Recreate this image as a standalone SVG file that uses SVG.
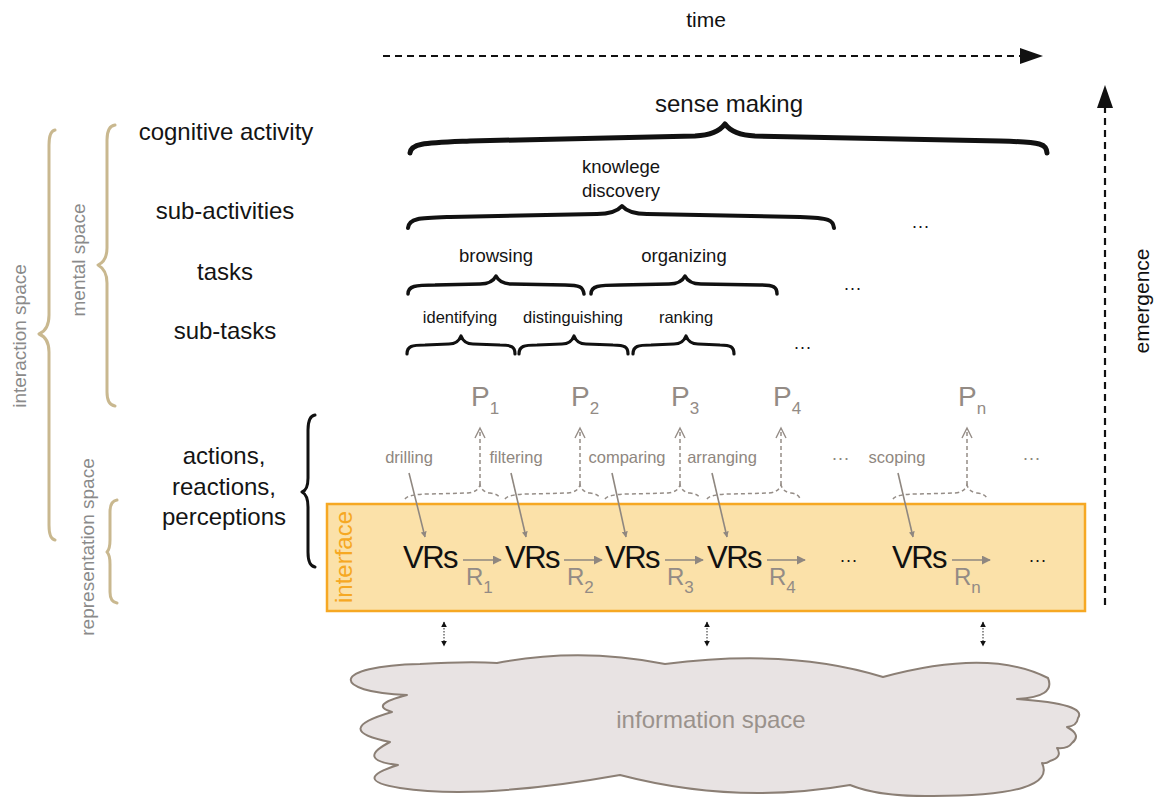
<svg xmlns="http://www.w3.org/2000/svg" width="1155" height="797" viewBox="0 0 1155 797">
  <defs>
    <style>
      text { font-family: "Liberation Sans", Arial, sans-serif; }
      .lbl { fill: #141414; font-size: 24px; text-anchor: middle; }
      .mid { fill: #141414; font-size: 18.5px; text-anchor: middle; }
      .sml { fill: #141414; font-size: 16.5px; text-anchor: middle; }
      .dots { fill: #141414; font-size: 18px; text-anchor: middle; letter-spacing: 1px; }
      .gdots { fill: #8f8780; font-size: 18px; text-anchor: middle; letter-spacing: 1px; }
      .act { fill: #8f8780; font-size: 16.5px; text-anchor: middle; }
      .gsym { fill: #938b85; }
      .space { fill: #8a8a8a; font-size: 19px; text-anchor: middle; }
      .vrs { fill: #111; font-size: 31px; letter-spacing: -1.5px; }
      .brace { fill: none; stroke: #111; stroke-linecap: round; stroke-linejoin: round; }
      .tan { fill: none; stroke: #c9b88f; stroke-width: 3; stroke-linecap: round; stroke-linejoin: round; }
      .pbrace { fill: none; stroke: #958d87; stroke-width: 1.5; stroke-dasharray: 4 3; }
      .garrow { stroke: #8f8780; stroke-width: 1.6; fill: none; }
      .axis { stroke: #111; stroke-width: 2.2; stroke-dasharray: 7 5; fill: none; }
      .link { stroke: #222; stroke-width: 1; stroke-dasharray: 1.5 1.5; fill: none; }
    </style>
    <marker id="gtri" viewBox="0 0 10 10" refX="9" refY="5" markerWidth="6" markerHeight="6" orient="auto" markerUnits="userSpaceOnUse">
      <path d="M0,0 L10,5 L0,10 z" fill="#8f8780"/>
    </marker>
    <marker id="rtri" viewBox="0 0 10 10" refX="9" refY="5" markerWidth="9" markerHeight="9" orient="auto" markerUnits="userSpaceOnUse">
      <path d="M0,0 L10,5 L0,10 z" fill="#8f8780"/>
    </marker>
    <marker id="ktri" viewBox="0 0 10 10" refX="9" refY="5" markerWidth="6" markerHeight="6" orient="auto-start-reverse" markerUnits="userSpaceOnUse">
      <path d="M0,0 L10,5 L0,10 z" fill="#111"/>
    </marker>
  </defs>

  <rect width="1155" height="797" fill="#ffffff"/>

  <!-- time axis -->
  <g id="time">
    <text x="706" y="27" style="fill:#111;font-size:21px;text-anchor:middle">time</text>
    <line class="axis" x1="383" y1="56" x2="1021" y2="56"/>
    <polygon points="1020,48 1043,56 1020,64" fill="#111"/>
  </g>

  <!-- emergence axis -->
  <g id="emergence">
    <line class="axis" x1="1105" y1="605" x2="1105" y2="106"/>
    <polygon points="1097,108 1105,85 1113,108" fill="#111"/>
    <text transform="translate(1149,301) rotate(-90)" style="fill:#111;font-size:21px;text-anchor:middle">emergence</text>
  </g>

  <!-- space braces on the left -->
  <g id="interaction-space">
    <path class="tan" d="M55,130 Q49,131 49,145 L49,315 Q49,330 39,334 Q49,338 49,352 L49,525 Q49,539 55,540"/>
    <text class="space" transform="translate(26,336) rotate(-90)">interaction space</text>
  </g>
  <g id="mental-space">
    <path class="tan" d="M115,125 Q107,126 107,140 L107,248 Q107,261 98,265 Q107,270 107,283 L107,392 Q107,405 115,406"/>
    <text class="space" transform="translate(85,260) rotate(-90)">mental space</text>
  </g>
  <g id="representation-space">
    <path class="tan" d="M117,500 Q110,501 110,512 L110,540 Q110,549 107,552 Q110,555 110,564 L110,592 Q110,602 117,603"/>
    <text class="space" transform="translate(94,547) rotate(-90)">representation space</text>
  </g>

  <!-- level labels -->
  <g id="levels">
    <text class="lbl" x="226" y="140">cognitive activity</text>
    <text class="lbl" x="225" y="219">sub-activities</text>
    <text class="lbl" x="225" y="280">tasks</text>
    <text class="lbl" x="225" y="339">sub-tasks</text>
    <text class="lbl" x="224" y="464">actions,</text>
    <text class="lbl" x="224" y="495">reactions,</text>
    <text class="lbl" x="224" y="525">perceptions</text>
    <path class="brace" stroke-width="3" d="M315,415 Q308,416 308,430 L308,478 Q308,490 302,492 Q308,495 308,507 L308,552 Q308,566 315,567"/>
  </g>

  <!-- sense making -->
  <g id="sense-making">
    <text class="lbl" x="729" y="112">sense making</text>
    <path class="brace" stroke-width="5" d="M410,153 C411,143 425,143 470,141 L695,136 Q717,135 725,124 Q733,135 755,136 L1000,141 C1043,142 1046,144 1047,153"/>
  </g>

  <!-- knowledge discovery -->
  <g id="knowledge-discovery">
    <text class="mid" x="621" y="173">knowlege</text>
    <text class="mid" x="621" y="197">discovery</text>
    <path class="brace" stroke-width="4" d="M408,228 C409,218 420,218 450,217 L597,214 Q615,214 622,206 Q629,214 647,214 L800,217 C830,218 833,220 834,228"/>
    <text class="dots" x="921" y="228">...</text>
  </g>

  <!-- tasks -->
  <g id="browsing">
    <text class="mid" x="496" y="262">browsing</text>
    <path class="brace" stroke-width="3.5" d="M408,294 C408,286 415,285 435,285 L480,284 Q492,284 496,276 Q500,284 512,284 L565,285 C580,285 583,287 584,294"/>
  </g>
  <g id="organizing">
    <text class="mid" x="684" y="262">organizing</text>
    <path class="brace" stroke-width="3.5" d="M591,294 C591,286 598,285 620,285 L669,284 Q681,284 685,276 Q689,284 701,284 L760,285 C774,285 777,287 777,294"/>
    <text class="dots" x="853" y="290">...</text>
  </g>

  <!-- sub-tasks -->
  <g id="identifying">
    <text class="sml" x="460" y="323">identifying</text>
    <path class="brace" stroke-width="3.2" d="M407,354 C407,346 412,345 425,345 L449,344 Q458,344 461,336 Q464,344 473,344 L500,345 C512,345 515,347 515,354"/>
  </g>
  <g id="distinguishing">
    <text class="sml" x="573" y="323">distinguishing</text>
    <path class="brace" stroke-width="3.2" d="M519,354 C519,346 524,345 537,345 L562,344 Q571,344 574,336 Q577,344 586,344 L613,345 C625,345 628,347 628,354"/>
  </g>
  <g id="ranking">
    <text class="sml" x="686" y="323">ranking</text>
    <path class="brace" stroke-width="3.2" d="M633,354 C633,346 638,345 651,345 L674,344 Q683,344 686,336 Q689,344 698,344 L720,345 C731,345 734,347 734,354"/>
    <text class="dots" x="803" y="349">...</text>
  </g>

  <!-- interface band -->
  <g id="interface">
    <rect x="327" y="504" width="758" height="107" fill="#fbe1a9" stroke="#f6a823" stroke-width="2.5"/>
    <text transform="translate(352,557) rotate(-90)" style="fill:#f6a823;font-size:24px;text-anchor:middle">interface</text>
    <text class="vrs" x="403" y="568">VRs</text>
    <text class="vrs" x="505" y="568">VRs</text>
    <text class="vrs" x="605" y="568">VRs</text>
    <text class="vrs" x="707" y="568">VRs</text>
    <text class="dots" x="849" y="562">...</text>
    <text class="vrs" x="892" y="568">VRs</text>
    <text class="dots" x="1038" y="562">...</text>
  </g>

  <!-- reactions between states -->
  <g id="reactions">
    <line class="garrow" x1="463" y1="560" x2="501" y2="560" marker-end="url(#rtri)"/>
    <line class="garrow" x1="564" y1="560" x2="602" y2="560" marker-end="url(#rtri)"/>
    <line class="garrow" x1="665" y1="560" x2="703" y2="560" marker-end="url(#rtri)"/>
    <line class="garrow" x1="767" y1="560" x2="805" y2="560" marker-end="url(#rtri)"/>
    <line class="garrow" x1="952" y1="560" x2="990" y2="560" marker-end="url(#rtri)"/>
    <text class="gsym" x="466" y="585" font-size="24">R<tspan font-size="17" dy="8">1</tspan></text>
    <text class="gsym" x="567" y="585" font-size="24">R<tspan font-size="17" dy="8">2</tspan></text>
    <text class="gsym" x="667" y="585" font-size="24">R<tspan font-size="17" dy="8">3</tspan></text>
    <text class="gsym" x="769" y="585" font-size="24">R<tspan font-size="17" dy="8">4</tspan></text>
    <text class="gsym" x="954" y="585" font-size="24">R<tspan font-size="17" dy="8">n</tspan></text>
  </g>

  <!-- user actions -->
  <g id="actions">
    <text class="act" x="409" y="463">drilling</text>
    <text class="act" x="516" y="463">filtering</text>
    <text class="act" x="627" y="463">comparing</text>
    <text class="act" x="722" y="463">arranging</text>
    <text class="gdots" x="841" y="460">...</text>
    <text class="act" x="897" y="463">scoping</text>
    <text class="gdots" x="1032" y="460">...</text>
    <line class="garrow" x1="409" y1="473" x2="425" y2="537" marker-end="url(#gtri)"/>
    <line class="garrow" x1="511" y1="473" x2="526" y2="537" marker-end="url(#gtri)"/>
    <line class="garrow" x1="612" y1="473" x2="626" y2="537" marker-end="url(#gtri)"/>
    <line class="garrow" x1="712" y1="473" x2="727" y2="537" marker-end="url(#gtri)"/>
    <line class="garrow" x1="898" y1="473" x2="913" y2="537" marker-end="url(#gtri)"/>
  </g>

  <!-- perceptions -->
  <g id="perceptions">
    <path class="pbrace" d="M405,499 Q408,494 430,494 L468,493 Q478,492 480,485 Q482,492 490,493 Q499,494 500,499"/>
    <path class="pbrace" d="M505,499 Q508,494 530,494 L568,493 Q578,492 580,485 Q582,492 590,493 Q599,494 600,499"/>
    <path class="pbrace" d="M605,499 Q608,494 630,494 L668,493 Q678,492 680,485 Q682,492 690,493 Q699,494 700,499"/>
    <path class="pbrace" d="M707,499 Q710,494 732,494 L769,493 Q779,492 781,485 Q783,492 791,493 Q799,494 800,499"/>
    <path class="pbrace" d="M893,499 Q896,494 918,494 L955,493 Q965,492 967,485 Q969,492 977,493 Q986,494 987,499"/>
    <line class="pbrace" x1="480" y1="485" x2="480" y2="429"/>
    <line class="pbrace" x1="580" y1="485" x2="580" y2="429"/>
    <line class="pbrace" x1="680" y1="485" x2="680" y2="429"/>
    <line class="pbrace" x1="781" y1="485" x2="781" y2="429"/>
    <line class="pbrace" x1="967" y1="485" x2="967" y2="429"/>
    <path d="M475,438 L480,428 L485,438 M575,438 L580,428 L585,438 M675,438 L680,428 L685,438 M776,438 L781,428 L786,438 M962,438 L967,428 L972,438" fill="none" stroke="#958d87" stroke-width="1.4"/>
    <text class="gsym" x="471" y="406" font-size="28">P<tspan font-size="17" dy="8">1</tspan></text>
    <text class="gsym" x="571" y="406" font-size="28">P<tspan font-size="17" dy="8">2</tspan></text>
    <text class="gsym" x="671" y="406" font-size="28">P<tspan font-size="17" dy="8">3</tspan></text>
    <text class="gsym" x="773" y="406" font-size="28">P<tspan font-size="17" dy="8">4</tspan></text>
    <text class="gsym" x="958" y="406" font-size="28">P<tspan font-size="17" dy="8">n</tspan></text>
  </g>

  <!-- links between interface and data -->
  <g id="links">
    <line class="link" x1="444" y1="622" x2="444" y2="646" marker-start="url(#ktri)" marker-end="url(#ktri)"/>
    <line class="link" x1="707" y1="622" x2="707" y2="646" marker-start="url(#ktri)" marker-end="url(#ktri)"/>
    <line class="link" x1="983" y1="622" x2="983" y2="646" marker-start="url(#ktri)" marker-end="url(#ktri)"/>
  </g>

  <!-- information space cloud -->
  <g id="information-space">
    <path fill="#e8e3e3" stroke="#8b7f75" stroke-width="2" stroke-linejoin="round"
      d="M407,695 C330,692 330,666 420,664 Q470,661 497,663 Q580,647 665,664 Q790,648 883,677 Q990,648 1048,678 Q1056,697 1017,699 Q1088,704 1078,718 Q1077,726 1067,727 Q1082,735 1072,743 Q1068,749 1057,748 Q1063,757 1050,761 Q1046,764 1042,763 Q1058,796 933,796 Q880,797 850,785 Q735,805 620,775 Q480,800 400,788 Q350,780 398,765 Q355,760 390,742 Q330,730 392,712 Q368,705 407,695 Z"/>
    <text x="711" y="728" style="fill:#9a928c;font-size:24px;text-anchor:middle">information space</text>
  </g>
</svg>
